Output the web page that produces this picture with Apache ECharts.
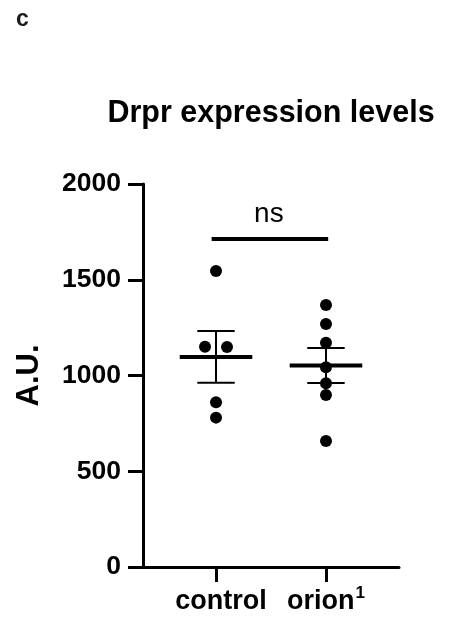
<!DOCTYPE html>
<html>
<head>
<meta charset="utf-8">
<script src="https://cdn.jsdelivr.net/npm/echarts@6/dist/echarts.min.js"></script>
<style>html,body{margin:0;padding:0;background:#fff}#c{width:457px;height:620px}</style>
</head>
<body>
<div id="c"></div>
<script>
// ---- data ----
const categories = ['control', 'orion'];
const categorySup = ['', '1'];
const controlValues = [1546, 1150, 1149, 860, 780];
const controlJitter = [0, -0.1, 0.1, 0, 0];
const orionValues = [1368, 1269, 1171, 1043, 959, 898, 658];
const orionJitter = [0, 0, 0, 0, 0, 0, 0];
const yTicks = [0, 500, 1000, 1500, 2000];
const sigLabel = 'ns';
const sigSpan = [0.96, 2.02];
const sigLevel = 1713;

// ---- statistics (mean ± SEM) ----
function stats(arr) {
  const n = arr.length;
  const m = arr.reduce((a, b) => a + b, 0) / n;
  const sd = Math.sqrt(arr.reduce((a, b) => a + (b - m) * (b - m), 0) / (n - 1));
  return [m, sd / Math.sqrt(n)];
}
const cs = stats(controlValues), os = stats(orionValues);

const FONT = '"Liberation Sans", Arial, Helvetica, sans-serif';
const chart = echarts.init(document.getElementById('c'), null, {renderer: 'canvas'});

function meanSem(params, api) {
  const x = api.value(0), m = api.value(1), s = api.value(2);
  const c = api.coord([x, m]);
  const hw = api.coord([x + 0.33, m])[0] - c[0];
  const cw = api.coord([x + 0.17, m])[0] - c[0];
  const top = api.coord([x, m + s])[1];
  const bot = api.coord([x, m - s])[1];
  const ls = {stroke: '#000', lineWidth: 2};
  return {
    type: 'group',
    children: [
      {type: 'line', shape: {x1: c[0], y1: top, x2: c[0], y2: bot}, style: ls},
      {type: 'line', shape: {x1: c[0] - cw, y1: top, x2: c[0] + cw, y2: top}, style: ls},
      {type: 'line', shape: {x1: c[0] - cw, y1: bot, x2: c[0] + cw, y2: bot}, style: ls},
      {type: 'line', shape: {x1: c[0] - hw, y1: c[1], x2: c[0] + hw, y2: c[1]}, style: {stroke: '#000', lineWidth: 4}}
    ]
  };
}

const option = {
  backgroundColor: '#fff',
  animation: false,
  title: [
    {text: 'c', left: 11, top: 3, textStyle: {fontFamily: FONT, fontWeight: 'bold', fontSize: 23, color: '#1a1a1a'}},
    {text: 'Drpr expression levels', left: 266, top: 93, textAlign: 'center',
     textStyle: {fontFamily: FONT, fontWeight: 'bold', fontSize: 30.5, color: '#000'}}
  ],
  grid: {left: 143, right: 58, top: 184, bottom: 53, containLabel: false},
  xAxis: {
    type: 'value', min: 0.336, max: 2.664,
    splitLine: {show: false},
    axisLine: {show: true, onZero: false, lineStyle: {color: '#000', width: 3}},
    axisTick: {show: true, length: 15, lineStyle: {color: '#000', width: 3}, customValues: [1, 2]},
    axisLabel: {
      customValues: [1, 2], margin: 18, color: '#000',
      formatter: v => {
        const i = Math.round(v) - 1;
        return i === 0 ? '{c|' + categories[0] + '}' : '{o|' + categories[1] + '}{s|' + categorySup[1] + '}';
      },
      rich: {
        c: {fontFamily: FONT, fontWeight: 'bold', fontSize: 27, lineHeight: 33, color: '#000', padding: [0, 0, 0, 10]},
        o: {fontFamily: FONT, fontWeight: 'bold', fontSize: 27, lineHeight: 33, color: '#000'},
        s: {fontFamily: FONT, fontWeight: 'bold', fontSize: 17, lineHeight: 17, color: '#000', verticalAlign: 'top', padding: [0, 0, 14, 1]}
      }
    }
  },
  yAxis: {
    type: 'value', min: yTicks[0], max: yTicks[yTicks.length - 1], interval: yTicks[1] - yTicks[0],
    name: 'A.U.', nameLocation: 'middle', nameGap: 98, nameRotate: 90,
    nameTextStyle: {fontFamily: FONT, fontWeight: 'bold', fontSize: 31, color: '#000'},
    splitLine: {show: false},
    axisLine: {show: true, lineStyle: {color: '#000', width: 3}},
    axisTick: {show: true, length: 15, lineStyle: {color: '#000', width: 3}},
    axisLabel: {margin: 22, fontFamily: FONT, fontWeight: 'bold', fontSize: 26.5, color: '#000',
      formatter: v => String(v)}
  },
  series: [
    {type: 'scatter', symbolSize: 12, itemStyle: {color: '#000', opacity: 1},
     data: controlValues.map((v, i) => [1 + controlJitter[i], v])},
    {type: 'scatter', symbolSize: 12, itemStyle: {color: '#000', opacity: 1},
     data: orionValues.map((v, i) => [2 + orionJitter[i], v])},
    {type: 'custom', renderItem: meanSem, z: 3,
     data: [[1, cs[0], cs[1]], [2, os[0], os[1]]]},
    {type: 'custom', z: 3,
     renderItem: (params, api) => {
       const a = api.coord([api.value(0), api.value(2)]);
       const b = api.coord([api.value(1), api.value(2)]);
       return {type: 'group', children: [
         {type: 'line', shape: {x1: a[0], y1: a[1], x2: b[0], y2: b[1]}, style: {stroke: '#000', lineWidth: 4}},
         {type: 'text', x: (a[0] + b[0]) / 2 - 1, y: a[1] - 25,
          style: {text: sigLabel, fontFamily: FONT, fontSize: 28, fill: '#000', align: 'center', verticalAlign: 'middle'}}
       ]};
     },
     data: [[sigSpan[0], sigSpan[1], sigLevel]]}
  ]
};
chart.setOption(option);
</script>
</body>
</html>
